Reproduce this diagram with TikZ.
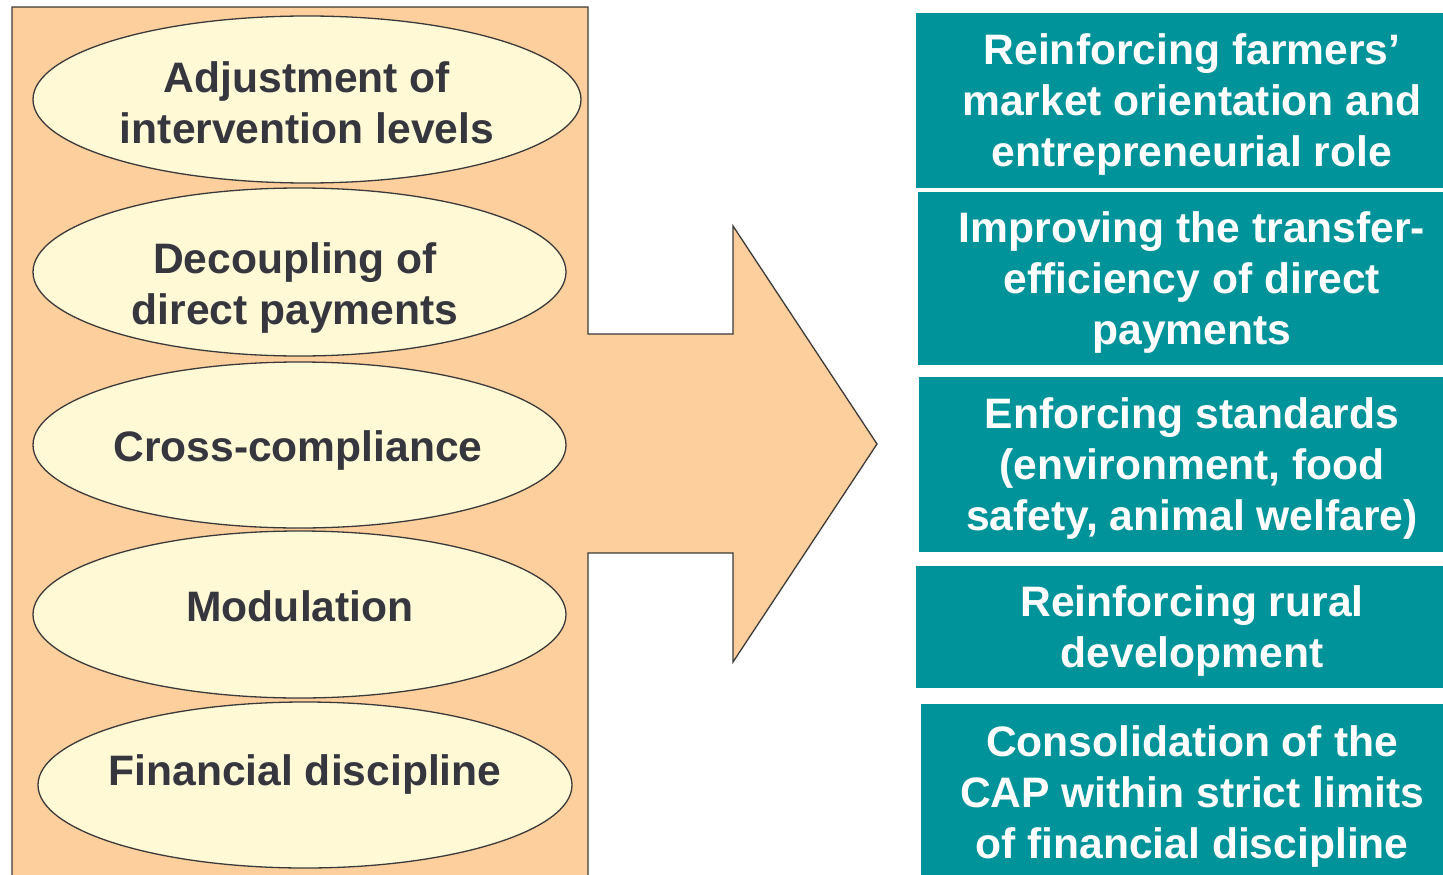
\documentclass[tikz,border=0pt]{standalone}
\usepackage{fontspec}
\setmainfont{Liberation Sans}
\usetikzlibrary{shapes.geometric}
\definecolor{panel}{HTML}{FDCF9D}
\definecolor{cream}{HTML}{FFF9D6}
\definecolor{ink}{HTML}{36363E}
\definecolor{edge}{HTML}{3A3A3A}
\definecolor{tealtop}{HTML}{00939A}
\definecolor{tealmid}{HTML}{00787D}
\newcommand{\bigtxt}{\fontsize{42.6}{51}\selectfont\bfseries}

\begin{document}
\begin{tikzpicture}[x=1pt,y=-1pt,
    measure/.style={ellipse,draw=edge,line width=1.3pt,fill=cream,inner sep=0pt},
    goal/.style={rectangle,inner sep=0pt,top color=tealtop,middle color=tealmid,bottom color=tealtop},
    mtext/.style={text=ink,align=center,font=\bigtxt},
    gtext/.style={text=white,align=center,font=\bigtxt}]
    \useasboundingbox (0,0) rectangle (1443,875);
    \clip (0,0) rectangle (1443,875);
    % panel and arrow as one outline
    \coordinate (p0) at (12,890);
    \coordinate (tip) at (877,444);
    \draw[edge,line width=1.3pt,fill=panel,line join=miter]
      (p0) -- (12,7) -- (588,7) -- (588,334) -- (733,334) -- (733,226)
      -- (tip) -- (733,662) -- (733,553) -- (588,553) -- (588,890);
    % the five measures
    \foreach \n/\cx/\cy/\w/\h/\tx/\ty/\txt in {
      1/307/99.5/548/167/307/103/{Adjustment of\\intervention levels},
      2/299.5/272/533/168/295/288/{Decoupling of\\direct payments},
      3/299.5/445/533/166/298/450/{Cross-compliance},
      4/299.5/614.5/533/167/300/606/{Modulation},
      5/305/785/534/166/305/774/{Financial discipline}}{
      \node[measure,minimum width=\w pt,minimum height=\h pt] (m\n) at (\cx,\cy) {};
      \node[mtext] (mt\n) at (\tx,\ty) {\txt};
    }
    % the five goals
    \foreach \n/\cx/\cy/\w/\h/\txt in {
      1/1192/100.5/552/173/{Reinforcing farmers’\\market orientation and\\entrepreneurial role},
      2/1193/278/550/172/{Improving the transfer-\\efficiency of direct\\payments},
      3/1193.5/464/549/174/{Enforcing standards\\(environment, food\\safety, animal welfare)},
      4/1192/626.5/552/121/{Reinforcing rural\\development},
      5/1194.5/792/547/176/{Consolidation of the\\CAP within strict limits\\of financial discipline}}{
      \node[goal,minimum width=\w pt,minimum height=\h pt] (g\n) at (\cx,\cy) {};
      \node[gtext] (gt\n) at (1192,\cy+4) {\txt};
    }
\end{tikzpicture}
\end{document}
